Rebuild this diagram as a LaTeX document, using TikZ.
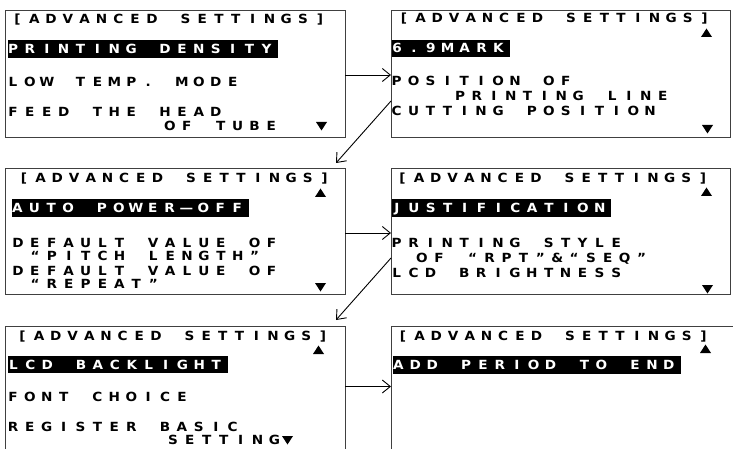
\documentclass[tikz,border=0pt]{standalone}
\usepackage{fontspec}
\usetikzlibrary{arrows.meta, calc, positioning}

\newfontfamily\lcdfont{DejaVu Sans}[FakeStretch=1.08]

% one fixed cell per character, like the LCD grid
\ExplSyntaxOn
\NewDocumentCommand\lcdtext{O{16.9pt}m}
  {\str_map_inline:nn {#2} {\makebox[#1][l]{\makebox[10.6pt][c]{##1}}}}
\ExplSyntaxOff

\tikzset{
  screen/.style={draw=black!75, line width=0.8pt, anchor=north west, inner sep=0pt,
    outer sep=0pt, minimum width=340pt, minimum height=127pt},
  lcd/.style={inner sep=0pt, anchor=base west,
    font=\lcdfont\bfseries\fontsize{12.6pt}{13pt}\selectfont},
  hl/.style={lcd, fill=black, text=white, inner ysep=4.2pt, text height=9.2pt, text depth=0pt},
  link/.style={-{Straight Barb[length=8pt,width=13pt]}, line width=0.9pt},
  uptri/.pic={\fill (0,0) -- (11,0) -- (5.5,-8.5) -- cycle;},
  downtri/.pic={\fill (0,0) -- (11,0) -- (5.5,8.5) -- cycle;}
}

\begin{document}
\begin{tikzpicture}[x=1pt, y=-1pt]
    \useasboundingbox (0,0) rectangle (733,449);
    \clip (0,0) rectangle (733,449);

    % the six screens
    \node[screen] (s1) at (5,10) {};
    \node[screen, minimum width=339pt] (s2) at (391,10) {};
    \node[screen, minimum height=126pt] (s3) at (5,168) {};
    \node[screen, minimum width=339pt, minimum height=126pt] (s4) at (391,168) {};
    \node[screen] (s5) at (5,326) {};
    \node[screen, minimum width=345pt] (s6) at (391,326) {};

    % screen 1
    \begin{scope}[shift={(s1.north west)}]
        \node[lcd] (s1t) at (7,13.8) {\lcdtext[16.8pt]{[ADVANCED SETTINGS]}};
        \node[hl] (s1a) at (2.5,43.5) {\lcdtext{PRINTING DENSITY}};
        \node[lcd] (s1b) at (2.5,76.5) {\lcdtext{LOW TEMP. MODE}};
        \node[lcd] (s1c) at (2.5,107) {\lcdtext{FEED THE HEAD}};
        \node[lcd] (s1d) at (159.5,120.5) {\lcdtext{OF TUBE}};
        \pic at (311,112) {downtri};
    \end{scope}

    % screen 2
    \begin{scope}[shift={(s2.north west)}]
        \node[lcd] (s2t) at (7.5,13) {\lcdtext[16.7pt]{[ADVANCED SETTINGS]}};
        \pic at (310,27) {uptri};
        \node[hl] (s2a) at (0.5,43) {\lcdtext{6.9MARK}};
        \node[lcd] (s2b) at (0.2,75.5) {\lcdtext{POSITION OF}};
        \node[lcd] (s2c) at (63.5,90.5) {\lcdtext{PRINTING LINE}};
        \node[lcd] (s2d) at (0.2,105.5) {\lcdtext{CUTTING POSITION}};
        \pic at (311,115) {downtri};
    \end{scope}

    % screen 3
    \begin{scope}[shift={(s3.north west)}]
        \node[lcd] (s3t) at (13.5,14.5) {\lcdtext[16.7pt]{[ADVANCED SETTINGS]}};
        \pic at (310,29) {uptri};
        \node[hl] (s3a) at (7,44.5) {\lcdtext{AUTO POWER—OFF}};
        \node[lcd] (s3b) at (7.5,79.5) {\lcdtext{DEFAULT VALUE OF}};
        \node[lcd] (s3c) at (24.5,92.5) {\lcdtext{“PITCH LENGTH”}};
        \node[lcd] (s3d) at (7.5,107) {\lcdtext{DEFAULT VALUE OF}};
        \node[lcd] (s3e) at (24.5,120.5) {\lcdtext{“REPEAT”}};
        \pic at (310,115) {downtri};
    \end{scope}

    % screen 4
    \begin{scope}[shift={(s4.north west)}]
        \node[lcd] (s4t) at (6,14.5) {\lcdtext[16.7pt]{[ADVANCED SETTINGS]}};
        \pic at (310,28) {uptri};
        \node[hl] (s4a) at (0.5,44.5) {\lcdtext{JUSTIFICATION}};
        \node[lcd] (s4b) at (0.2,79.5) {\lcdtext{PRINTING STYLE}};
        \node[lcd] (s4c) at (25.5,94.5) {\lcdtext{OF “RPT”&“SEQ”}};
        \node[lcd] (s4d) at (0.2,109.5) {\lcdtext{LCD BRIGHTNESS}};
        \pic at (311,117) {downtri};
    \end{scope}

    % screen 5
    \begin{scope}[shift={(s5.north west)}]
        \node[lcd] (s5t) at (12,14.5) {\lcdtext[16.7pt]{[ADVANCED SETTINGS]}};
        \pic at (308,28) {uptri};
        \node[hl] (s5a) at (3,43) {\lcdtext{LCD BACKLIGHT}};
        \node[lcd] (s5b) at (2.5,75.5) {\lcdtext{FONT CHOICE}};
        \node[lcd] (s5c) at (2.5,105) {\lcdtext{REGISTER BASIC}};
        \node[lcd] (s5d) at (162.5,118.5) {\lcdtext{SETTING}};
        \pic at (277,110) {downtri};
    \end{scope}

    % screen 6
    \begin{scope}[shift={(s6.north west)}]
        \node[lcd] (s6t) at (6.5,14.5) {\lcdtext[16.7pt]{[ADVANCED SETTINGS]}};
        \pic at (309,27) {uptri};
        \node[hl] (s6a) at (2,43.5) {\lcdtext{ADD PERIOD TO END}};
    \end{scope}

    % arrows between screens
    \coordinate (d1s) at ($(s2.north west)+(0,91)$);
    \coordinate (d1e) at ($(s3.north east)+(-9,-5)$);
    \coordinate (d2s) at ($(s4.north west)+(0,90)$);
    \coordinate (d2e) at ($(s5.north east)+(-9,-6)$);
    \draw[link] ([yshift=-1.5pt]s1.east) -- ([yshift=-1.5pt]s2.west);
    \draw[link] (d1s) -- (d1e);
    \draw[link] ([yshift=-2pt]s3.east) -- ([yshift=-2pt]s4.west);
    \draw[link] (d2s) -- (d2e);
    \draw[link] ([yshift=3pt]s5.east) -- ([yshift=3pt]s6.west);
\end{tikzpicture}
\end{document}
